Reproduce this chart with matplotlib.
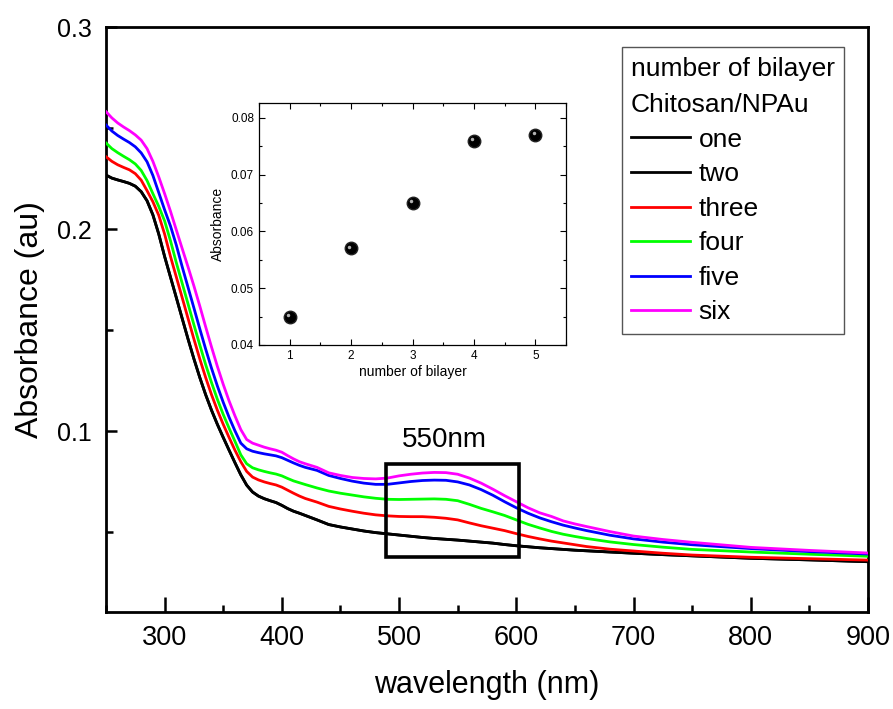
import numpy as np
import matplotlib
matplotlib.use("Agg")
import matplotlib.pyplot as plt
import matplotlib.patches as patches
import matplotlib.ticker as ticker
from matplotlib.transforms import ScaledTranslation

plt.rcParams['font.family'] = ['Liberation Sans', 'DejaVu Sans']

# UV-vis spectra, chitosan/gold nanoparticle bilayers
wavelength = [250, 255, 260, 265, 270, 275, 280, 285, 290, 295, 300, 305, 310, 315,
              320, 325, 330, 335, 340, 345, 350, 355, 360, 365, 370, 375, 380, 385,
              390, 395, 400, 405, 410, 415, 420,
              430, 440, 450, 460, 470, 480, 490, 500, 510, 520, 530, 540, 550, 560,
              570, 580, 590, 600, 610, 620, 630, 640, 650, 660,
              680, 700, 725, 750, 800, 850, 900]

abs_two = [0.2267, 0.2252, 0.2243, 0.2235, 0.2226, 0.2212, 0.2185, 0.2140, 0.2070,
           0.1975, 0.1864, 0.1762, 0.1660, 0.1557, 0.1455, 0.1357, 0.1265, 0.1180,
           0.1103, 0.1033, 0.0968, 0.0905, 0.0843, 0.0783, 0.0732, 0.0698, 0.0678,
           0.0665, 0.0655, 0.0646, 0.0632, 0.0616, 0.0603, 0.0593, 0.0582,
           0.0560, 0.0537, 0.0525, 0.0515, 0.0505, 0.0497, 0.0491, 0.0485, 0.0479,
           0.0473, 0.0468, 0.0464, 0.0460, 0.0455, 0.0450, 0.0445, 0.0438, 0.0432,
           0.0427, 0.0422, 0.0418, 0.0414, 0.0410, 0.0407,
           0.0401, 0.0395, 0.0388, 0.0382, 0.0370, 0.0362, 0.0353]
abs_one = abs_two  # lies under the "two" trace
abs_three = [0.2358, 0.2335, 0.2318, 0.2305, 0.2293, 0.2274, 0.2242, 0.2190, 0.2135,
             0.2068, 0.1975, 0.1864, 0.1762, 0.1660, 0.1557, 0.1455, 0.1357, 0.1265,
             0.1180, 0.1103, 0.1033, 0.0968, 0.0905, 0.0848, 0.0800, 0.0772, 0.0758,
             0.0748, 0.0740, 0.0733, 0.0722, 0.0707, 0.0692, 0.0678, 0.0666,
             0.0648, 0.0627, 0.0614, 0.0603, 0.0593, 0.0585, 0.0580, 0.0577, 0.0576,
             0.0576, 0.0573, 0.0568, 0.0560, 0.0545, 0.0531, 0.0519, 0.0507, 0.0492,
             0.0478, 0.0466, 0.0455, 0.0446, 0.0437, 0.0428,
             0.0415, 0.0406, 0.0395, 0.0386, 0.0375, 0.0368, 0.0361]
abs_four = [0.2426, 0.2398, 0.2378, 0.2360, 0.2343, 0.2322, 0.2290, 0.2240, 0.2175,
            0.2112, 0.2040, 0.1942, 0.1833, 0.1731, 0.1629, 0.1526, 0.1426, 0.1329,
            0.1240, 0.1157, 0.1082, 0.1014, 0.0949, 0.0882, 0.0838, 0.0818, 0.0808,
            0.0800, 0.0793, 0.0787, 0.0778, 0.0765, 0.0753, 0.0744, 0.0735,
            0.0718, 0.0703, 0.0692, 0.0683, 0.0674, 0.0667, 0.0662, 0.0661, 0.0662,
            0.0663, 0.0664, 0.0662, 0.0655, 0.0637, 0.0617, 0.0600, 0.0582, 0.0560,
            0.0538, 0.0520, 0.0503, 0.0489, 0.0478, 0.0468,
            0.0451, 0.0438, 0.0425, 0.0414, 0.0401, 0.0390, 0.0380]
abs_five = [0.2515, 0.2485, 0.2463, 0.2445, 0.2428, 0.2407, 0.2377, 0.2333, 0.2265,
            0.2180, 0.2095, 0.2015, 0.1920, 0.1813, 0.1711, 0.1609, 0.1506, 0.1406,
            0.1311, 0.1223, 0.1142, 0.1068, 0.1001, 0.0940, 0.0912, 0.0900, 0.0893,
            0.0887, 0.0882, 0.0877, 0.0868, 0.0855, 0.0842, 0.0830, 0.0820,
            0.0805, 0.0780, 0.0765, 0.0752, 0.0742, 0.0736, 0.0736, 0.0743, 0.0750,
            0.0755, 0.0757, 0.0756, 0.0748, 0.0733, 0.0710, 0.0682, 0.0650, 0.0620,
            0.0593, 0.0570, 0.0551, 0.0534, 0.0520, 0.0507,
            0.0484, 0.0466, 0.0450, 0.0437, 0.0418, 0.0403, 0.0391]
abs_six = [0.2581, 0.2550, 0.2525, 0.2505, 0.2487, 0.2466, 0.2440, 0.2398, 0.2335,
           0.2258, 0.2175, 0.2088, 0.1995, 0.1903, 0.1812, 0.1718, 0.1619, 0.1516,
           0.1416, 0.1320, 0.1231, 0.1149, 0.1075, 0.1007, 0.0958, 0.0940, 0.0930,
           0.0920, 0.0912, 0.0905, 0.0895, 0.0878, 0.0862, 0.0848, 0.0838,
           0.0820, 0.0793, 0.0780, 0.0770, 0.0765, 0.0763, 0.0767, 0.0778, 0.0786,
           0.0792, 0.0795, 0.0794, 0.0786, 0.0767, 0.0742, 0.0712, 0.0680, 0.0650,
           0.0620, 0.0595, 0.0577, 0.0555, 0.0540, 0.0527,
           0.0502, 0.0480, 0.0463, 0.0449, 0.0424, 0.0409, 0.0396]

labels = ["one", "two", "three", "four", "five", "six"]
colors = ["black", "black", "red", "#00ff00", "blue", "magenta"]

# absorbance at 550 nm vs number of bilayers
n_bilayer = [1, 2, 3, 4, 5]
abs_550 = [0.045, 0.057, 0.065, 0.076, 0.077]

fig = plt.figure(figsize=(8.93, 7.09), dpi=100)
ax = fig.add_axes([0.1187, 0.1368, 0.8533, 0.8251])

series = [abs_one, abs_two, abs_three, abs_four, abs_five, abs_six]
for vals, lab, col in zip(series, labels, colors):
    ax.plot(wavelength, vals, color=col, lw=2.0, label=lab, zorder=3,
            solid_joinstyle='round')

ax.set_xlim(250, 900)
ax.set_ylim(0.0104, 0.3)
ax.xaxis.set_major_locator(ticker.MultipleLocator(100))
ax.xaxis.set_minor_locator(ticker.MultipleLocator(50))
ax.yaxis.set_major_locator(ticker.MultipleLocator(0.1))
ax.yaxis.set_minor_locator(ticker.MultipleLocator(0.05))
ax.yaxis.set_major_formatter(ticker.FormatStrFormatter('%.1f'))
ax.tick_params(axis='x', which='major', direction='in', length=11, width=1.8, pad=9)
ax.tick_params(axis='x', which='minor', direction='in', length=5, width=1.8)
ax.tick_params(axis='y', which='major', direction='in', length=8, width=1.8, pad=10)
ax.tick_params(axis='y', which='minor', direction='in', length=5, width=1.8)
for lbl in ax.get_xticklabels():
    lbl.set_fontsize(19.5)
for lbl in ax.get_yticklabels():
    lbl.set_fontsize(18)
for sp in ax.spines.values():
    sp.set_linewidth(2.0)

ax.set_xlabel("wavelength (nm)", fontsize=22, labelpad=14)
ax.set_ylabel("Absorbance (au)", fontsize=23, labelpad=9)

ax.add_patch(patches.Rectangle((489, 0.0376), 113, 0.046, fill=False,
                               lw=2.6, ec='black', zorder=4))
ax.text(539, 0.0955, "550nm", fontsize=20, ha='center', va='center')

leg = ax.legend(loc='upper left', bbox_to_anchor=(0.677, 0.965), fontsize=19,
                title="number of bilayer\nChitosan/NPAu", title_fontsize=19,
                alignment='left', fancybox=False, edgecolor='#555555',
                framealpha=1, handlelength=2.25, handletextpad=0.3,
                labelspacing=0.4, borderpad=0.35, borderaxespad=0)
leg.get_frame().set_linewidth(1.0)
leg.get_title().set_linespacing(1.65)

# inset: absorbance at 550 nm
ax_in = fig.add_axes([0.290, 0.5134, 0.344, 0.3413])
ax_in.plot(n_bilayer, abs_550, 'o', color='black', ms=9, mec='#222222', zorder=3)
shift = ScaledTranslation(-1.3 / 72, 1.3 / 72, fig.dpi_scale_trans)
ax_in.plot(n_bilayer, abs_550, 'o', color='white', ms=2.5, alpha=0.7, mec='none',
           transform=ax_in.transData + shift, zorder=4)
ax_in.set_xlim(0.5, 5.5)
ax_in.set_ylim(0.04, 0.0826)
ax_in.xaxis.set_major_locator(ticker.MultipleLocator(1))
ax_in.xaxis.set_minor_locator(ticker.MultipleLocator(0.5))
ax_in.yaxis.set_major_locator(ticker.MultipleLocator(0.01))
ax_in.yaxis.set_minor_locator(ticker.MultipleLocator(0.005))
ax_in.yaxis.set_major_formatter(ticker.FormatStrFormatter('%.2f'))
ax_in.tick_params(which='both', direction='in', top=True, right=True,
                  labelsize=8.5, width=0.8)
ax_in.tick_params(which='major', length=4)
ax_in.tick_params(which='minor', length=2.5)
for sp in ax_in.spines.values():
    sp.set_linewidth(0.9)
ax_in.set_xlabel("number of bilayer", fontsize=10, labelpad=2)
ax_in.set_ylabel("Absorbance", fontsize=10, labelpad=4)

fig.savefig("out.png", dpi=100)
